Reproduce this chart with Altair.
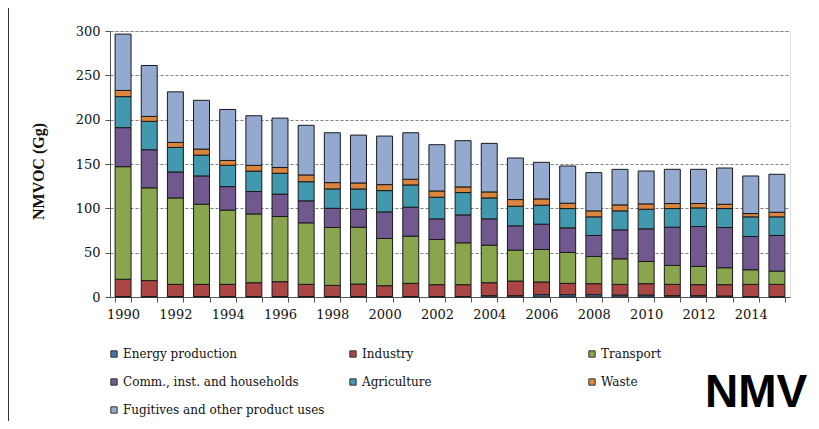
import altair as alt
import pandas as pd

years = [str(y) for y in range(1990, 2016)]
categories = ["Energy production", "Industry", "Transport",
              "Comm., inst. and households", "Agriculture", "Waste",
              "Fugitives and other product uses"]
colors = ["#4572A7", "#AA4643", "#89A54E", "#71588F", "#4198AF", "#DB843D", "#93A9CF"]

energy = [0.5, 0.5, 0.5, 0.5, 0.5, 0.5, 0.5, 0.5, 0.5, 0.5, 0.5, 0.5, 0.5, 0.5,
          1.5, 1.5, 2.6, 2.6, 2.6, 2.25, 2.25, 1.5, 1.5, 1.1, 0.4, 0.4]
industry = [19.5, 18, 13.75, 13.75, 13.75, 15.6, 16.75, 13.75, 12.6, 14.1, 12.25, 14.9, 13.4,
            13.4, 14.6, 16.5, 14.3, 12.8, 12.4, 12, 12.75, 12.75, 12.4, 12.8, 13.85, 13.85]
transport = [127, 104.6, 97.5, 90.4, 83.75, 77.6, 73.5, 69.4, 65.3, 64.1, 53.25, 53.2, 51,
             47.2, 42.4, 34.9, 36.7, 34.85, 30.75, 28.85, 25.1, 21.35, 20.6, 19.1, 16.5, 15]
comm = [44, 43, 29.25, 31.9, 26.5, 25.25, 25.25, 24.8, 21.6, 20.25, 30, 32.65, 23.2,
        31.5, 29.6, 27.35, 28.5, 27.75, 23.65, 32.65, 36.8, 43.15, 45, 45.4, 37.5, 40.15]
agriculture = [35, 32, 27.75, 23.5, 24, 23, 23.5, 21.6, 21.9, 22.9, 24, 25.15, 24.4,
               25.2, 23.65, 22.15, 21.4, 21.75, 21, 21.35, 22.1, 21, 21, 21.35, 22.15, 21]
waste = [7, 5.6, 5.6, 6.75, 5.5, 6.5, 6.5, 7.6, 7.1, 6.75, 6.75, 6.35, 7.1,
         6.35, 6.75, 7.5, 7.1, 6, 6.75, 6.75, 6, 5.65, 4.9, 4.85, 3.7, 5.2]
fugitives = [63.5, 57.4, 57, 55, 57.5, 56, 55.75, 56, 56.25, 54, 54.75, 52.5, 52.15,
             52.15, 54.75, 46.85, 41.3, 42, 43.15, 40.1, 37.1, 38.6, 38.6, 40.9, 42.4, 42.8]

series = [energy, industry, transport, comm, agriculture, waste, fugitives]
rows = []
for ci, (cat, vals) in enumerate(zip(categories, series)):
    for y, v in zip(years, vals):
        rows.append({"year": y, "category": cat, "value": v, "order": ci})
df = pd.DataFrame(rows)

serif = "DejaVu Serif"
serif_bold = "Liberation Serif"

bars = alt.Chart(df).mark_bar(stroke="#1a1a1a", strokeWidth=1).encode(
    x=alt.X("year:O", sort=years,
            scale=alt.Scale(paddingInner=0.39, paddingOuter=0.195),
            axis=alt.Axis(title=None, labelAngle=0, tickBand="extent",
                          labelExpr="parseInt(datum.value) % 2 == 0 ? datum.label : ''",
                          labelFont=serif, labelFontSize=13, labelColor="#111",
                          labelPadding=6, tickSize=5, tickColor="#555",
                          domainColor="#555", grid=False)),
    y=alt.Y("value:Q", stack="zero",
            scale=alt.Scale(domain=[0, 300]),
            axis=alt.Axis(values=[0, 50, 100, 150, 200, 250, 300],
                          title="NMVOC (Gg)", titleFont=serif_bold, titleFontSize=16,
                          titleFontWeight="bold", titleColor="#111",
                          titleX=-72, titleY=140, titleAngle=-90,
                          titleAlign="center", titleBaseline="middle",
                          labelFont=serif, labelFontSize=13, labelColor="#111",
                          labelPadding=5, tickSize=5, tickColor="#555",
                          domainColor="#555", grid=True, gridColor="#7f7f7f",
                          gridDash=[3, 2], gridWidth=1)),
    color=alt.Color("category:N", sort=categories,
                    scale=alt.Scale(domain=categories, range=colors),
                    legend=alt.Legend(title=None, orient="none", legendX=-2, legendY=317,
                                      columns=3, gridAlign="all", direction="horizontal",
                                      symbolType="square", symbolSize=40,
                                      symbolStrokeColor="#333", symbolStrokeWidth=1,
                                      labelFont=serif, labelFontSize=12, labelColor="#111",
                                      labelLimit=400, labelOffset=3,
                                      columnPadding=22, rowPadding=16, padding=0)),
    order=alt.Order("order:Q", sort="ascending"),
)

nmv = alt.Chart(pd.DataFrame({"t": ["NMV"]})).mark_text(
    font="Liberation Sans", fontSize=46, fontWeight="bold", align="left",
    baseline="alphabetic", color="#000"
).encode(text="t:N", x=alt.value(595), y=alt.value(376))

border = alt.Chart(pd.DataFrame({"t": [0]})).mark_rule(color="#333", strokeWidth=1).encode(
    x=alt.value(-101.5), y=alt.value(-23), y2=alt.value(398))

chart = alt.layer(bars, nmv, border).properties(
    width=680, height=266,
    autosize=alt.AutoSizeParams(type="none"),
    padding={"left": 102, "top": 23, "right": 21, "bottom": 124},
).configure_view(stroke="#333", strokeWidth=1, clip=False).configure(
    background="white")

chart.save("out.html", embed_options={"renderer": "svg", "actions": False})
